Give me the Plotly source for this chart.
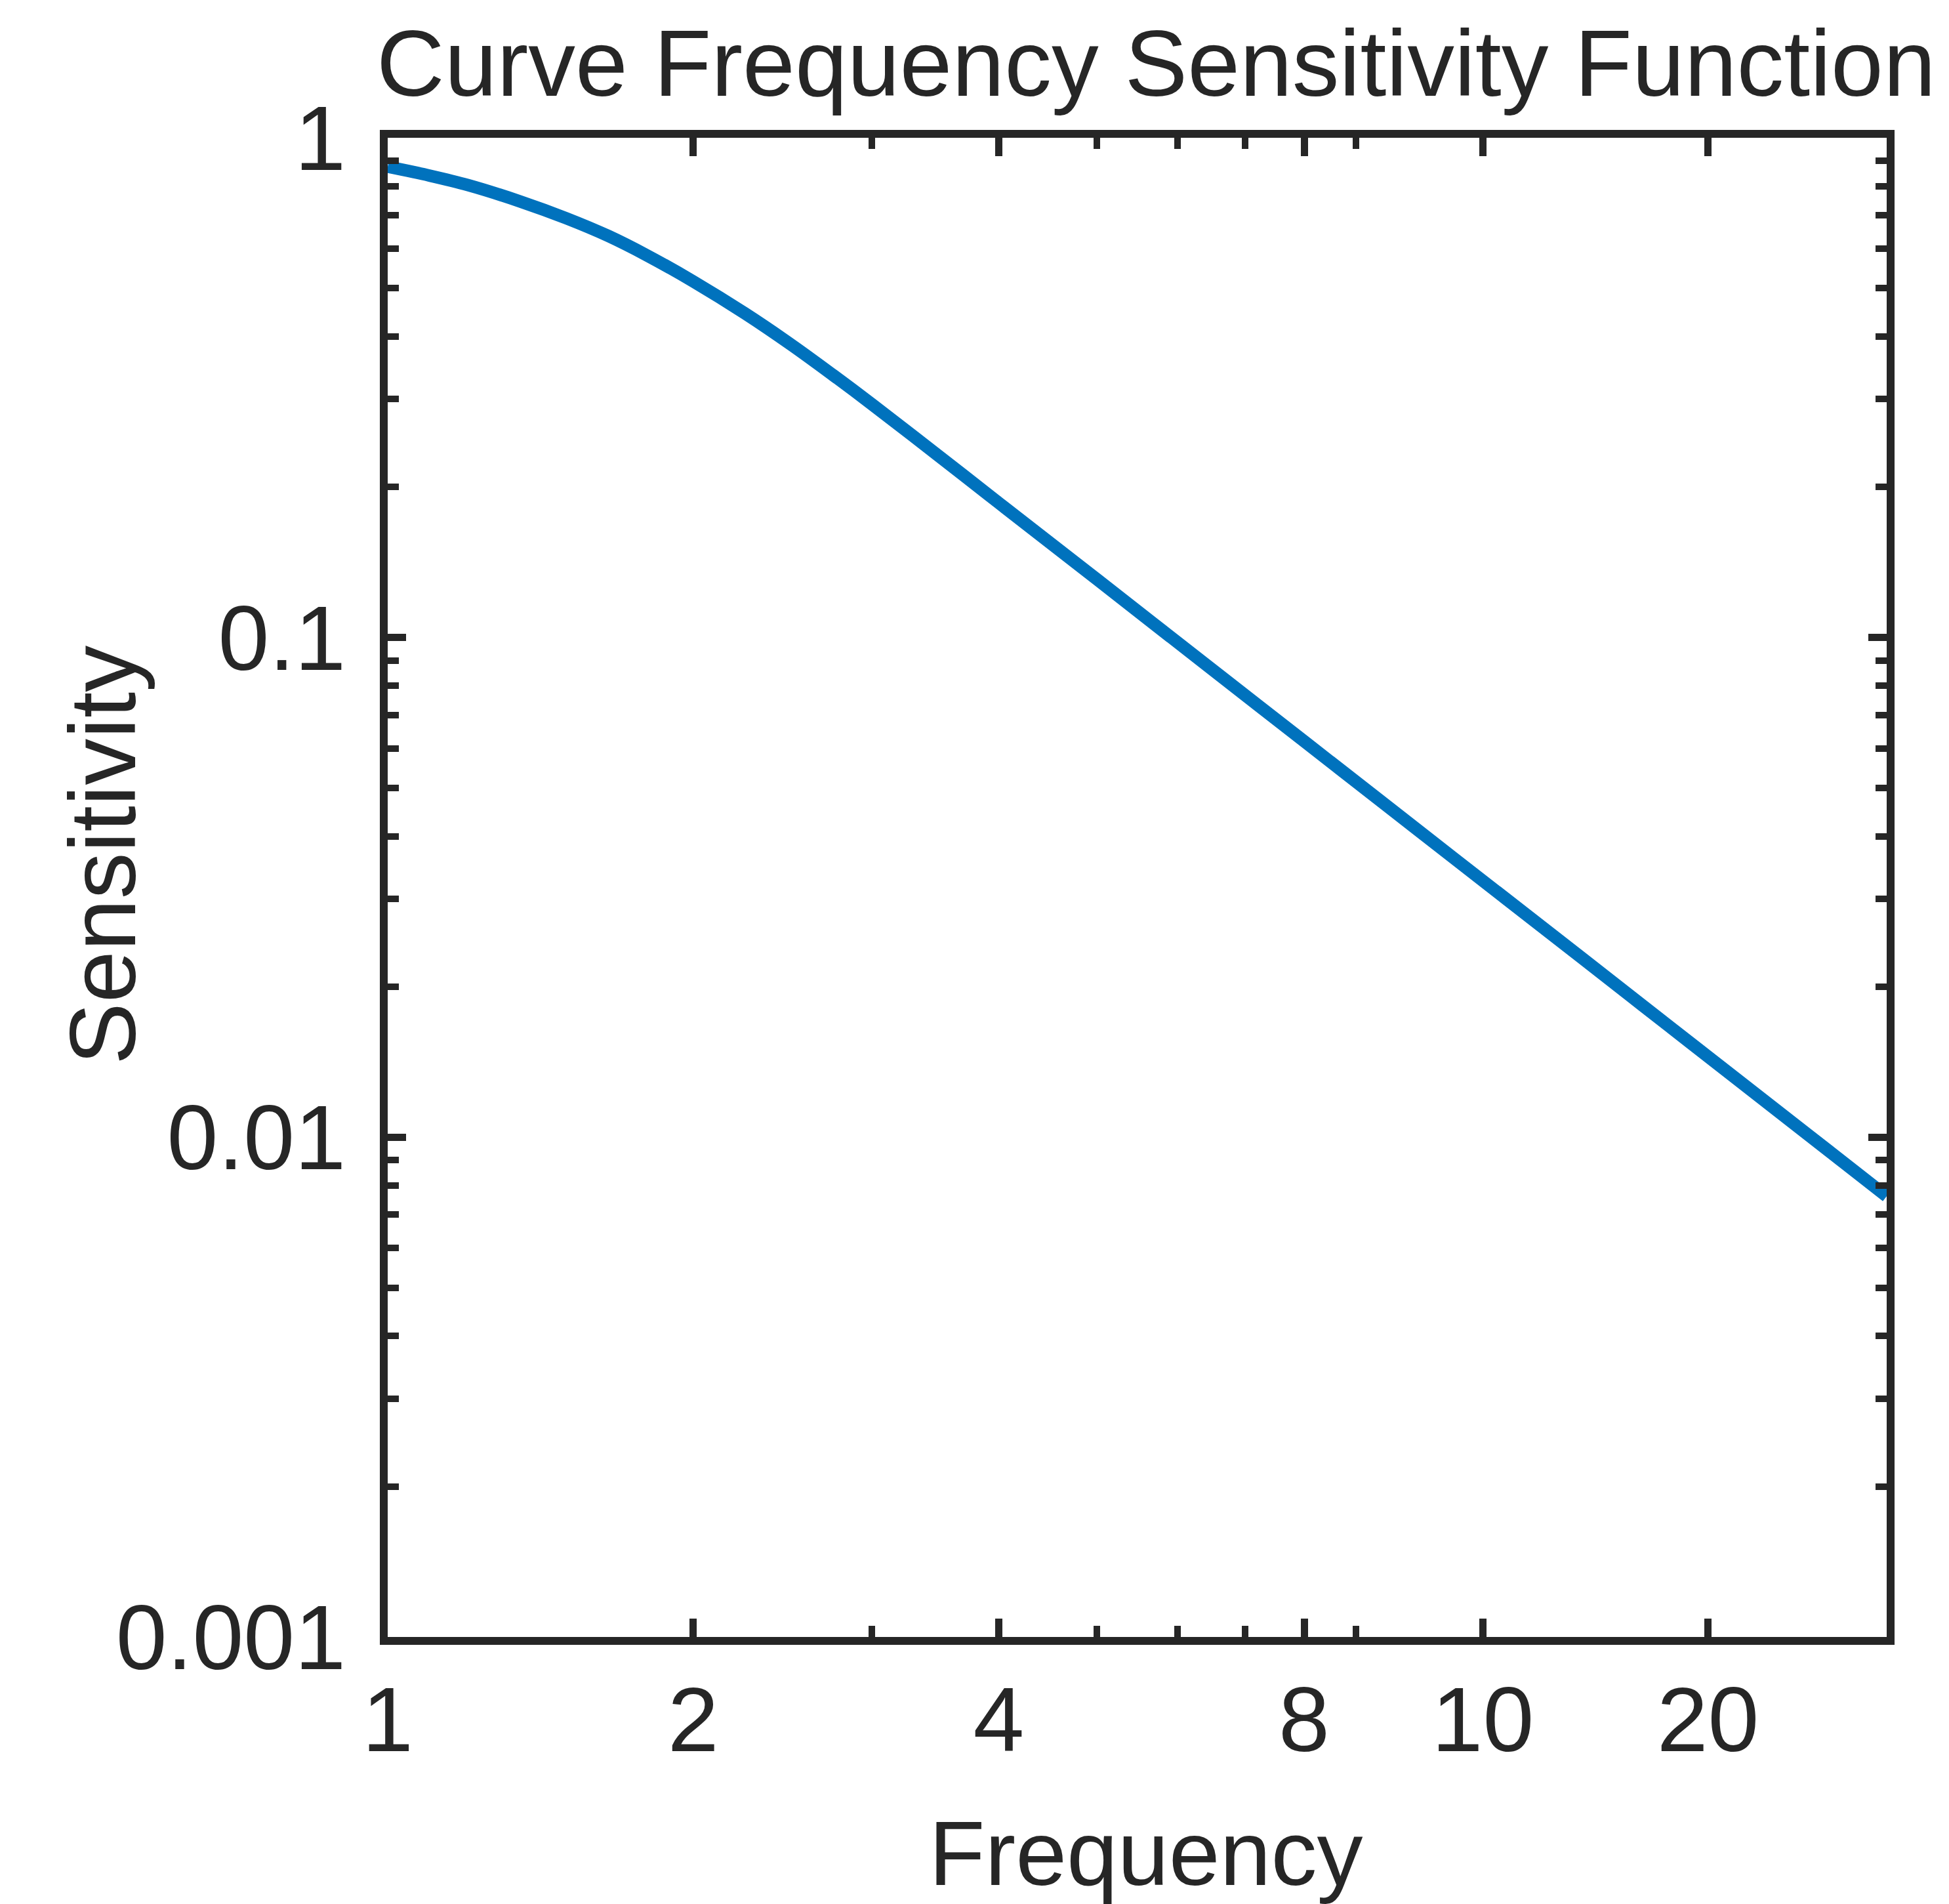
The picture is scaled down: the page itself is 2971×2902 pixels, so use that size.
import plotly.graph_objects as go

# ---- data ----
freq = [1.0, 1.1, 1.2, 1.35, 1.5, 1.65, 1.8, 2.0, 2.25, 2.5, 2.75, 3.0, 3.5, 4.0,
        5.0, 6.62, 8.0, 11.27, 15.0, 19.2, 25.0, 30.0]
sens = [0.875, 0.840, 0.804, 0.746, 0.690, 0.636, 0.582, 0.516, 0.445, 0.385,
        0.3345, 0.293, 0.230, 0.186, 0.1307, 0.0837, 0.0620, 0.0360, 0.0229,
        0.01547, 0.01018, 0.00762]

x_tick_vals = [1, 2, 4, 8, 12, 20]
x_tick_text = ["1", "2", "4", "8", "10", "20"]
x_minor_vals = [3, 5, 6, 7, 9]
y_tick_vals = [0.001, 0.01, 0.1, 1]
y_tick_text = ["0.001", "0.01", "0.1", "1"]
y_minor_vals = [m * d for d in (0.001, 0.01, 0.1) for m in range(2, 10)]

title_text = "Curve Frequency Sensitivity Function"
x_label = "Frequency"
y_label = "Sensitivity"

# ---- geometry (axis line centres in the reference) ----
W, H = 2971, 2902
LW = 12
L0, R0, T0, B0 = 585, 2882, 204, 2501
L, R, T, B = L0 + LW / 2, R0 - LW / 2, T0 + LW / 2, B0 - LW / 2
pw, ph = R - L, B - T

def px(x):
    return (x - L) / pw

def py(y):
    return (B - y) / ph

ink = "#262626"
font_family = "Liberation Sans, Arial, Helvetica, sans-serif"

fig = go.Figure()
fig.add_trace(go.Scatter(x=freq, y=sens, mode="lines", line_shape="spline",
                         line=dict(color="#0072BD", width=19), showlegend=False,
                         hoverinfo="skip"))

axis_common = dict(showline=True, linewidth=LW, linecolor=ink, mirror="ticks",
                   ticks="inside", ticklen=28, tickwidth=11, tickcolor=ink,
                   showgrid=False, zeroline=False,
                   tickfont=dict(family=font_family, size=140, color=ink))

fig.update_xaxes(type="log", range=[0, 1.4771213], tickmode="array",
                 tickvals=x_tick_vals, ticktext=x_tick_text,
                 minor=dict(tickmode="array", tickvals=x_minor_vals, ticks="inside",
                            ticklen=17, tickwidth=10, tickcolor=ink, showgrid=False),
                 ticklabelstandoff=-6, **axis_common)
fig.update_yaxes(type="log", range=[-3, 0], tickmode="array",
                 tickvals=y_tick_vals, ticktext=y_tick_text,
                 minor=dict(tickmode="array", tickvals=y_minor_vals, ticks="inside",
                            ticklen=17, tickwidth=10, tickcolor=ink, showgrid=False),
                 ticklabelstandoff=24, **axis_common)

annots = [
    dict(text=title_text, x=px(572), y=py(96), xanchor="left", yanchor="middle",
         font=dict(size=143.5)),
    dict(text=x_label, x=px(1746), y=py(2824), xanchor="center", yanchor="middle",
         font=dict(size=140)),
    dict(text=y_label, x=px(156), y=py(1304), xanchor="center", yanchor="middle",
         textangle=-90, font=dict(size=142)),
]
for a in annots:
    a["font"].update(family=font_family, color=ink)
    fig.add_annotation(xref="paper", yref="paper", showarrow=False, **a)

fig.update_layout(width=W, height=H, margin=dict(l=L, r=W - R, t=T, b=H - B, pad=0),
                  plot_bgcolor="white", paper_bgcolor="white", hovermode=False)

fig.write_html("out.html", config={"displayModeBar": False},
               post_script="document.body.style.margin='0px';document.body.style.padding='0px';")
